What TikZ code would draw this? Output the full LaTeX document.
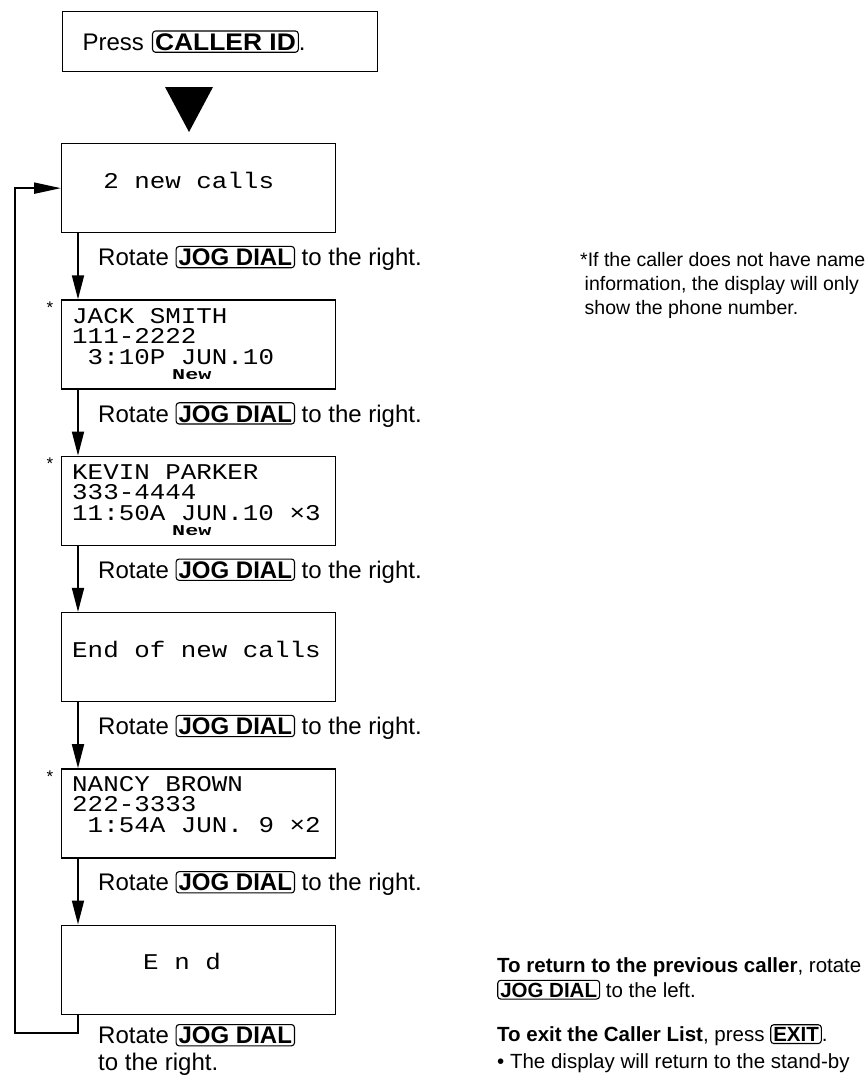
\documentclass[tikz,border=0pt]{standalone}
\usepackage{fontspec}
\setmainfont{Liberation Sans}
\newfontfamily\dispfont[FakeStretch=1.15]{Liberation Mono}
\newfontfamily\flagfont[FakeStretch=1.45]{Liberation Mono}
\usetikzlibrary{arrows.meta,positioning}
\newcommand{\keybox}[1]{\tikz[baseline=(k.base)]\node[draw,rounded corners=3pt,line width=1.1pt,
	text width=,minimum width=0pt,minimum height=0pt,align=center,anchor=base,
	inner xsep=2.5pt,inner ysep=2pt,text height=0.72em,text depth=0pt,font=\bfseries](k){#1};}
\newcommand{\newflag}{\hspace*{100pt}{\flagfont\bfseries\fontsize{15}{15}\selectfont New}}
\begin{document}
\begin{tikzpicture}[x=1pt, y=1pt, node distance=66pt,
	disp/.style = {draw, line width=1.3pt, minimum width=274pt,
		minimum height=89pt, inner sep=0pt},
	dtxt/.style = {anchor=north west, inner sep=0pt, align=left,
		font=\dispfont\fontsize{22.5}{20.5}\selectfont},
	lbl/.style = {anchor=west, inner sep=0pt, align=left,
		font=\fontsize{24}{27}\selectfont},
	note/.style = {anchor=north west, inner sep=0pt, align=left,
		font=\fontsize{20.5}{25}\selectfont},
	starmark/.style = {inner sep=0pt, font=\fontsize{17}{17}\selectfont},
	arr/.style = {line width=1.8pt, -{Triangle[length=24pt,width=12pt]}}]
	\useasboundingbox (0,0) rectangle (865,-1081);
	\node[draw, line width=1.3pt, anchor=north west, minimum width=315pt,
		minimum height=60pt, text width=275pt, inner xsep=20pt, align=left,
		font=\fontsize{24}{27}\selectfont] (press) at (62,-11)
		{Press \keybox{\scalebox{1.1}[1]{CALLER ID}}.};
	\fill (165,-87) -- (213,-87) -- (189,-132) -- cycle;
	\node[disp, anchor=north west] (d0) at (61,-143) {};
	\node[disp, below=of d0] (d1) {};
	\node[disp, below=of d1] (d2) {};
	\node[disp, below=of d2] (d3) {};
	\node[disp, below=of d3] (d4) {};
	\node[disp, below=of d4] (d5) {};
	\node[dtxt] (t0) at ([shift={(11pt,-25pt)}]d0.north west)
		{\rule{0pt}{20pt}~~2 new calls};
	\node[dtxt] (t1) at ([shift={(11pt,-3.5pt)}]d1.north west)
		{\rule{0pt}{20pt}JACK SMITH\\111-2222\\~3:10P JUN.10\\[-5.5pt]\newflag};
	\node[dtxt] (t2) at ([shift={(11pt,-3.5pt)}]d2.north west)
		{\rule{0pt}{20pt}KEVIN PARKER\\333-4444\\11:50A JUN.10 ×3\\[-5.5pt]\newflag};
	\node[dtxt] (t3) at ([shift={(11pt,-25pt)}]d3.north west)
		{\rule{0pt}{20pt}End of new calls};
	\node[dtxt] (t4) at ([shift={(11pt,-3pt)}]d4.north west)
		{\rule{0pt}{20pt}NANCY BROWN\\222-3333\\~1:54A JUN. 9 ×2};
	\node[dtxt] (t5) at ([shift={(82pt,-25pt)}]d5.north west)
		{\rule{0pt}{20pt}E n d};
	\node[starmark] (s1) at ([shift={(-11pt,-8pt)}]d1.north west) {*};
	\node[starmark] (s2) at ([shift={(-11pt,-8pt)}]d2.north west) {*};
	\node[starmark] (s4) at ([shift={(-11pt,-8pt)}]d4.north west) {*};
	\draw[arr] ([xshift=17pt]d0.south west) -- ([xshift=17pt]d1.north west);
	\draw[arr] ([xshift=17pt]d1.south west) -- ([xshift=17pt]d2.north west);
	\draw[arr] ([xshift=17pt]d2.south west) -- ([xshift=17pt]d3.north west);
	\draw[arr] ([xshift=17pt]d3.south west) -- ([xshift=17pt]d4.north west);
	\draw[arr] ([xshift=17pt]d4.south west) -- ([xshift=17pt]d5.north west);
	\draw[line width=2pt, -{Triangle[length=27pt,width=11pt]}]
		([xshift=17pt]d5.south west) -- ++(0,-18pt) -| ([xshift=-46pt]d0.west) -- (d0.west);
	\node[lbl] (r0) at ([shift={(37pt,-25pt)}]d0.south west) {Rotate \keybox{JOG DIAL} to the right.};
	\node[lbl] (r1) at ([shift={(37pt,-25pt)}]d1.south west) {Rotate \keybox{JOG DIAL} to the right.};
	\node[lbl] (r2) at ([shift={(37pt,-25pt)}]d2.south west) {Rotate \keybox{JOG DIAL} to the right.};
	\node[lbl] (r3) at ([shift={(37pt,-25pt)}]d3.south west) {Rotate \keybox{JOG DIAL} to the right.};
	\node[lbl] (r4) at ([shift={(37pt,-25pt)}]d4.south west) {Rotate \keybox{JOG DIAL} to the right.};
	\node[lbl, anchor=north west] (r5) at ([shift={(37pt,-9pt)}]d5.south west)
		{Rotate \keybox{JOG DIAL}\\to the right.};
	\node[note, font=\fontsize{19.5}{24}\selectfont] (fn) at (580,-252)
		{*If the caller does not have name\\\hspace*{4.5pt}information, the display will only\\\hspace*{4.5pt}show the phone number.};
	\node[note] (back) at (497,-957)
		{\textbf{To return to the previous caller}, rotate\\\keybox{JOG DIAL} to the left.};
	\node[note, font=\fontsize{20.5}{27}\selectfont] (exit) at (497,-1024)
		{\textbf{To exit the Caller List}, press \keybox{EXIT}.\\\textbullet\ The display will return to the stand-by};
\end{tikzpicture}
\end{document}
